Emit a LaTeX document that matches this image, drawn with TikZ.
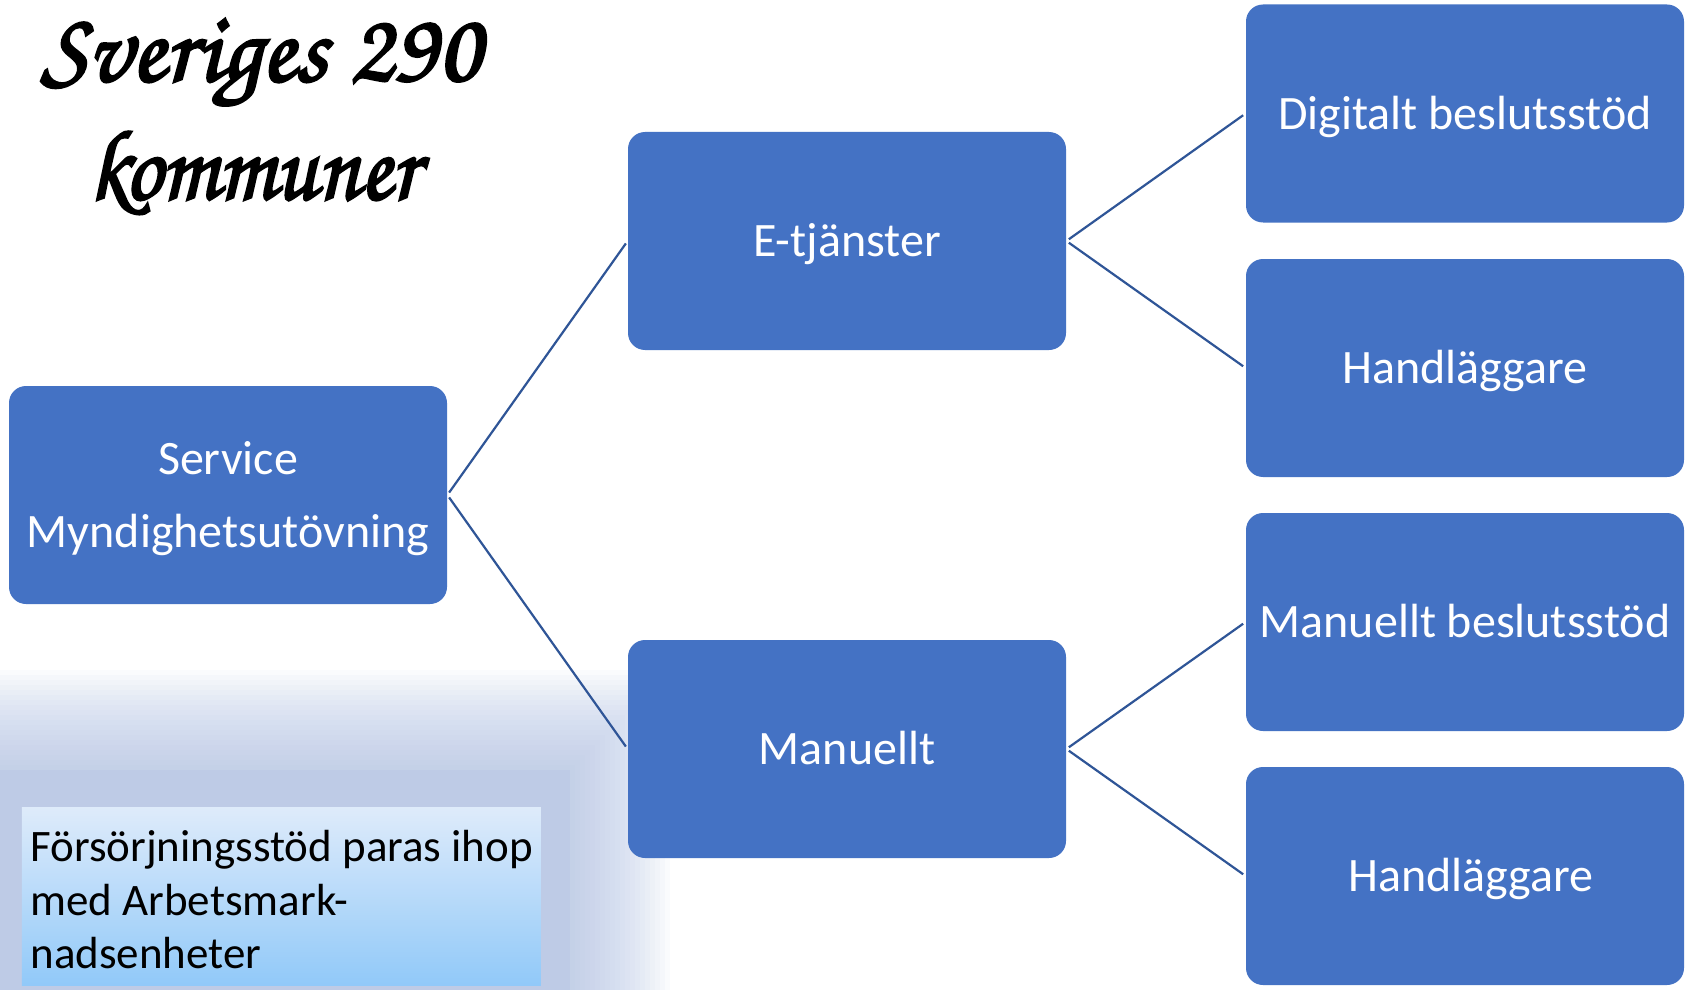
\documentclass[tikz,border=0pt]{standalone}
\usepackage{fontspec}
\setmainfont{Carlito}
\newfontfamily\brushfont{texgyrechorus-mediumitalic.otf}[FakeBold=2.5]
\usetikzlibrary{calc}

\definecolor{boxblue}{HTML}{4472C4}
\definecolor{linkblue}{HTML}{2F5597}
\definecolor{glowblue}{RGB}{180,197,230}
\definecolor{notetop}{RGB}{222,235,250}
\definecolor{notebot}{RGB}{145,201,249}

\tikzset{
  box/.style={rectangle, rounded corners=8.5pt, fill=boxblue, text=white,
    minimum width=219pt, minimum height=109pt, inner sep=0pt, align=center,
    text depth=1pt, font=\fontsize{24}{36.5}\selectfont},
  link/.style={draw=linkblue, line width=1.1pt, shorten <=1.5pt, shorten >=1.5pt},
  titletext/.style={inner sep=0pt, font=\brushfont\fontsize{50}{60}\selectfont},
  notetext/.style={inner sep=0pt, align=left, text=black,
    font=\fontsize{22.5}{26.7}\selectfont},
}

\begin{document}
\begin{tikzpicture}[x=0.5pt, y=-0.5pt]
  \useasboundingbox (0,0) rectangle (1688,990);
  \fill[white] (0,0) rectangle (1688,990);

  % soft glow behind the note
  \fill[glowblue, opacity=0.35] (-20,770) rectangle (570,1010);
  \foreach \i in {1,...,20}
    \fill[glowblue, opacity=0.06] (-20,{770-5*\i}) rectangle ({570+5*\i},1010);

  % title
  \node[titletext, anchor=base] (t1) at (261,81) {Sveriges 290};
  \node[titletext, anchor=base, xscale=0.92] (t2) at (254,199) {kommuner};

  % boxes
  \node[box] (serv) at (228,495) {Service\\Myndighetsutövning};
  \node[box] (etj)  at (847,241) {E-tjänster};
  \node[box] (man)  at (847,749) {Manuellt};
  \node[box] (dig)  at (1465,113.5) {Digitalt beslutsstöd};
  \node[box] (h1)   at (1465,368) {Handläggare};
  \node[box] (mb)   at (1465,622) {Manuellt beslutsstöd};
  \node[box] (h2)   at (1465,876) {\hspace*{6pt}Handläggare};

  % connectors
  \draw[link] (serv.east) -- (etj.west);
  \draw[link] (serv.east) -- (man.west);
  \draw[link] (etj.east) -- (dig.west);
  \draw[link] (etj.east) -- (h1.west);
  \draw[link] (man.east) -- (mb.west);
  \draw[link] (man.east) -- (h2.west);

  % note box
  \node[rectangle, inner sep=0pt, anchor=north west, minimum width=259.5pt,
        minimum height=89pt, top color=notetop, bottom color=notebot]
        (notebox) at (21.5,807) {};
  \node[notetext, anchor=north west] (note) at ($(notebox.north west)+(8.5,23)$)
        {Försörjningsstöd paras ihop\\med Arbetsmark-\\nadsenheter};
\end{tikzpicture}
\end{document}
